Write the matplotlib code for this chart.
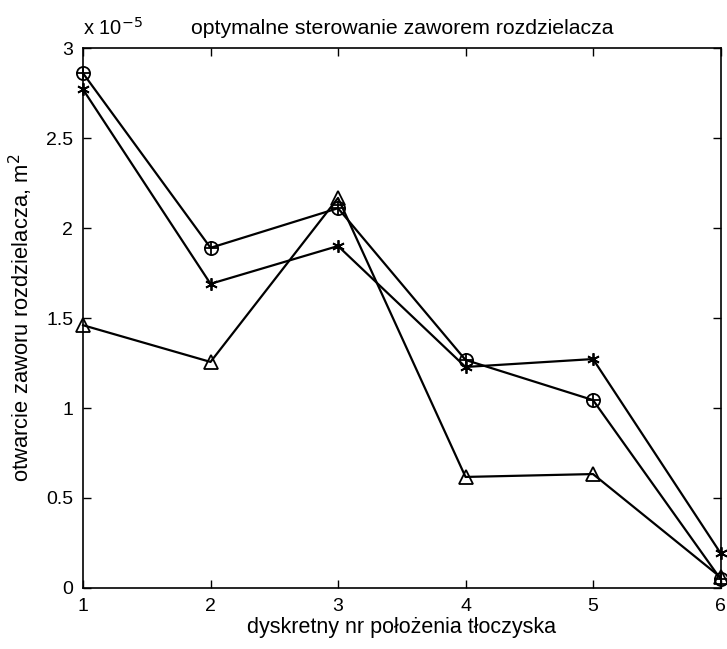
import matplotlib.pyplot as plt
from matplotlib.ticker import FuncFormatter

plt.rcParams['font.family'] = ['Liberation Sans', 'DejaVu Sans']

pos = [1, 2, 3, 4, 5, 6]
# values in m^2
circ = [2.86e-5, 1.89e-5, 2.11e-5, 1.267e-5, 1.044e-5, 0.05e-5]
star = [2.77e-5, 1.69e-5, 1.90e-5, 1.228e-5, 1.272e-5, 0.194e-5]
tri = [1.46e-5, 1.256e-5, 2.167e-5, 0.617e-5, 0.633e-5, 0.06e-5]

fig = plt.figure(figsize=(7.27, 6.49), dpi=100)
ax = fig.add_axes([0.1142, 0.094, 0.8769, 0.832])

ax.plot(pos, circ, color='black', lw=1.6, marker='o', ms=9.5, mfc='none', mew=1.3, clip_on=False)
ax.plot(pos, circ, color='black', lw=0, marker='+', ms=9.5, mew=1.3, clip_on=False)
ax.plot(pos, star, color='black', lw=1.6, marker=(6, 2, 0), ms=9, mew=1.3, clip_on=False)
ax.plot(pos, tri, color='black', lw=1.6, marker='^', ms=10.5, mfc='none', mew=1.3, clip_on=False)

ax.set_xlim(1, 6)
ax.set_ylim(0, 3e-5)
ax.set_xticks(pos)
ax.set_yticks([0, 0.5e-5, 1e-5, 1.5e-5, 2e-5, 2.5e-5, 3e-5])
ax.yaxis.set_major_formatter(FuncFormatter(lambda v, p: f"{v / 1e-5:g}"))
ax.tick_params(direction='in', top=True, right=True, labelsize=14, length=6, width=1, pad=7)
for s in ax.spines.values():
    s.set_linewidth(1.2)

ax.text(0.0, 1.024, r"x 10$^{-5}$", transform=ax.transAxes, fontsize=14.5, ha='left', va='baseline')
ax.set_title("optymalne sterowanie zaworem rozdzielacza", fontsize=15.3, pad=10)
ax.set_xlabel("dyskretny nr położenia tłoczyska", fontsize=15.5, labelpad=2)
ax.set_ylabel("otwarcie zaworu rozdzielacza, m$^2$", fontsize=15.8, labelpad=8)

fig.savefig("out.png", dpi=100)
